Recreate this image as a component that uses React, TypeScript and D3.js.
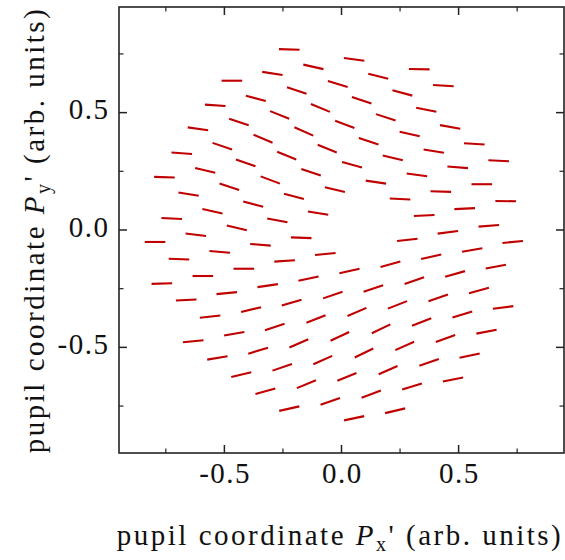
import React from "react";
import * as d3 from "d3";

// Segment centers (pupil coordinates) and polarization angle (degrees, CCW)
const segX = [-0.223,-0.120,-0.295,-0.016,-0.468,-0.191,-0.366,-0.090,-0.539,-0.264,0.014,-0.438,-0.613,-0.161,-0.335,-0.509,-0.061,-0.682,-0.234,0.045,-0.409,-0.582,-0.130,-0.756,-0.304,-0.479,-0.028,-0.653,-0.203,-0.377,-0.551,-0.100,-0.725,-0.274,-0.447,
  0.054,0.332,0.157,0.435,0.086,0.260,0.362,0.189,0.464,0.291,0.116,0.567,0.394,0.219,0.671,0.496,0.322,0.147,0.599,0.424,0.250,0.701,0.526,0.353,0.629,
  -0.796,-0.622,-0.172,-0.346,-0.520,-0.694,-0.069,-0.243,-0.417,-0.592,-0.767,0.034,-0.141,-0.315,-0.490,-0.663,-0.037,-0.213,-0.386,-0.561,-0.109,-0.285,-0.458,-0.633,-0.007,-0.182,-0.356,-0.530,-0.080,-0.253,-0.428,0.023,-0.150,-0.325,-0.048,-0.223,
  0.454,0.281,0.731,0.558,0.383,0.209,0.659,0.485,0.311,0.136,0.587,0.413,0.239,0.066,0.690,0.516,0.342,0.169,0.619,0.444,0.270,0.096,0.547,0.374,0.199,0.476,0.301,0.127,0.229,0.054];
const segY = [0.769,0.695,0.667,0.622,0.636,0.594,0.561,0.520,0.531,0.490,0.450,0.460,0.431,0.420,0.389,0.357,0.347,0.327,0.317,0.278,0.286,0.254,0.246,0.225,0.213,0.184,0.172,0.153,0.143,0.110,0.080,0.072,0.049,0.041,0.009,
  0.727,0.685,0.655,0.615,0.553,0.584,0.512,0.480,0.439,0.409,0.378,0.367,0.336,0.307,0.295,0.267,0.235,0.204,0.195,0.164,0.132,0.123,0.091,0.062,0.018,
  -0.051,-0.020,-0.033,-0.063,-0.093,-0.124,-0.102,-0.132,-0.165,-0.196,-0.228,-0.175,-0.207,-0.237,-0.269,-0.298,-0.277,-0.309,-0.339,-0.369,-0.379,-0.413,-0.442,-0.474,-0.453,-0.483,-0.514,-0.545,-0.554,-0.585,-0.616,-0.626,-0.657,-0.687,-0.730,-0.761,
  -0.010,-0.042,-0.051,-0.085,-0.114,-0.146,-0.156,-0.187,-0.216,-0.249,-0.258,-0.289,-0.319,-0.349,-0.330,-0.360,-0.392,-0.421,-0.433,-0.462,-0.494,-0.524,-0.535,-0.564,-0.597,-0.637,-0.667,-0.699,-0.770,-0.802];
const segAngle = [-1.8,-12.6,-8.5,-16.7,0,-18.4,-15,-22.4,-3.9,-22,-21,-18.7,-7.9,-24,-22.9,-18.8,-22.2,-3.9,-22,-15,-18.8,-13,-18.7,-1.9,-20.7,-18.4,-13.4,-9.3,-15,-15,-12.3,-8.8,-3,-10.7,-13,
  -7.5,-0.9,-14,-3.7,-18.7,-15.2,-11.3,-18.1,-10.2,-13.1,-18.1,-3.7,-9.2,-13.1,-2.8,-4.6,-7.5,-8.5,0,-1.8,-2.8,-0.9,2.7,2.7,4.5,
  0,-7,-1.9,-4.8,-4.8,-2,5.5,3.8,0,0,1.9,12.6,12,8.4,5.6,2.9,19,16.2,13.6,6.5,21.6,18.7,10.2,5.7,25,23.7,17,9.5,23.7,18.7,13.1,22,22.3,15.4,19.3,12.6,
  7.2,6.3,5.4,9.9,12.5,15.6,10.2,15.6,19.3,18.4,15.3,19.3,21.3,23.3,7.4,16.7,21.1,25.8,11.1,19.6,23.7,25.7,12,19,24,11.3,17.2,20.8,13.3,12];

const majorTicks = [-0.5, 0, 0.5];
const minorTicks = [-0.75, -0.25, 0.25, 0.75];
const tickLabels = ["-0.5", "0.0", "0.5"];

const W = 565, H = 560;
const L = 119, R = 564, T = 7, B = 453;
const FONT = "'Liberation Serif', 'Times New Roman', serif";
const RED = "#c00000";
const HALF = 10.3;

export default function App() {
  const x = d3.scaleLinear().domain([-0.95, 0.95]).range([L, R]);
  const y = d3.scaleLinear().domain([-0.95, 0.95]).range([B, T]);
  const segs = segX.map((sx, i) => {
    const cx = x(sx), cy = y(segY[i]);
    const a = (segAngle[i] * Math.PI) / 180;
    const dx = HALF * Math.cos(a), dy = HALF * Math.sin(a);
    return { x1: cx - dx, y1: cy + dy, x2: cx + dx, y2: cy - dy };
  });
  const tickCol = "#222";
  const labelStyle = { letterSpacing: "2.5px" };
  const tickStyle = { letterSpacing: "1.5px" };
  return (
    <svg width={W} height={H} style={{ position: "absolute", left: 0, top: 0, background: "#fff" }}>
      <g>
        {segs.map((s, i) => (
          <line key={i} x1={s.x1} y1={s.y1} x2={s.x2} y2={s.y2} stroke={RED} strokeWidth={2.1} />
        ))}
      </g>
      <rect x={L} y={T} width={R - L} height={B - T} fill="none" stroke={tickCol} strokeWidth={1.6} />
      {majorTicks.map((t) => (
        <g key={"M" + t} stroke={tickCol} strokeWidth={1.5}>
          <line x1={x(t)} x2={x(t)} y1={B} y2={B - 8} />
          <line x1={x(t)} x2={x(t)} y1={T} y2={T + 8} />
          <line y1={y(t)} y2={y(t)} x1={L} x2={L + 8} />
          <line y1={y(t)} y2={y(t)} x1={R} x2={R - 8} />
        </g>
      ))}
      {minorTicks.map((t) => (
        <g key={"m" + t} stroke={tickCol} strokeWidth={1.2}>
          <line x1={x(t)} x2={x(t)} y1={B} y2={B - 4.5} />
          <line x1={x(t)} x2={x(t)} y1={T} y2={T + 4.5} />
          <line y1={y(t)} y2={y(t)} x1={L} x2={L + 4.5} />
          <line y1={y(t)} y2={y(t)} x1={R} x2={R - 4.5} />
        </g>
      ))}
      {majorTicks.map((t, i) => (
        <text key={"xl" + t} x={x(t) + 0.75} y={483} textAnchor="middle" fontFamily={FONT} fontSize={29} fill="#111" style={tickStyle}>
          {tickLabels[i]}
        </text>
      ))}
      {majorTicks.map((t, i) => (
        <text key={"yl" + t} x={109.5} y={y(t) + 6.5} textAnchor="end" fontFamily={FONT} fontSize={29} fill="#111" style={tickStyle}>
          {tickLabels[i]}
        </text>
      ))}
      <text x={340} y={545} textAnchor="middle" fontFamily={FONT} fontSize={29} fill="#111" style={labelStyle}>
        pupil coordinate <tspan fontStyle="italic">P</tspan>
        <tspan fontSize={20} dy={6}>x</tspan>
        <tspan dy={-6}>' (arb. units)</tspan>
      </text>
      <text transform={`translate(44,${(T + B) / 2}) rotate(-90)`} textAnchor="middle" fontFamily={FONT} fontSize={29} fill="#111" style={labelStyle}>
        pupil coordinate <tspan fontStyle="italic">P</tspan>
        <tspan fontSize={20} dy={6}>y</tspan>
        <tspan dy={-6}>' (arb. units)</tspan>
      </text>
    </svg>
  );
}
